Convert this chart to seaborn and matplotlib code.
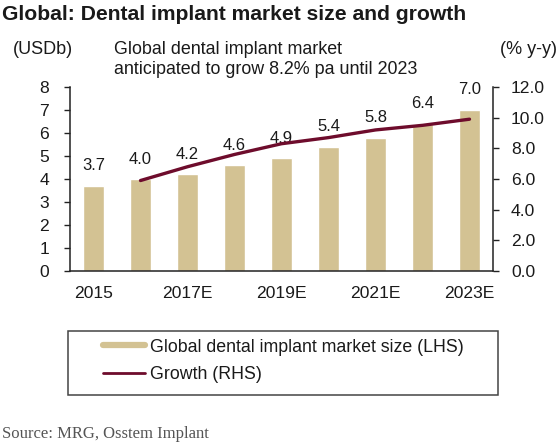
import numpy as np
import pandas as pd
import matplotlib
matplotlib.use("Agg")
import matplotlib.pyplot as plt
from matplotlib.lines import Line2D
from matplotlib.patches import Rectangle
import seaborn as sns

years = ["2015", "2016E", "2017E", "2018E", "2019E", "2020E", "2021E", "2022E", "2023E"]
market_size = [3.7, 4.0, 4.2, 4.6, 4.9, 5.4, 5.8, 6.4, 7.0]
growth = [np.nan, 5.9, 6.8, 7.6, 8.3, 8.7, 9.2, 9.5, 9.9]
left_ticks = [0, 1, 2, 3, 4, 5, 6, 7, 8]
right_ticks = [0, 2, 4, 6, 8, 10, 12]

BAR_COLOR = "#d3c293"
LINE_COLOR = "#6e0c2c"
TEXT = "#1a1a1a"
TICK_FS = 12.6

sns.set_style("white")
plt.rcParams["font.family"] = ["Liberation Sans", "DejaVu Sans"]

fig = plt.figure(figsize=(5.6, 4.48), dpi=100)
ax = fig.add_axes([70/560, 1-271/448, (493-70)/560, (271-87)/448])

df = pd.DataFrame({"year": years, "size": market_size, "growth": growth, "pos": np.arange(len(years))})

sns.barplot(data=df, x="year", y="size", color=BAR_COLOR, saturation=1, width=0.45, ax=ax)
ax.set_xlim(-0.5, len(years) - 0.5)
ax.set_ylim(0, 8)
ax.set_yticks(left_ticks)
ax.set_yticklabels([str(t) for t in left_ticks], fontsize=TICK_FS, color=TEXT)
ax.set_xticks(range(0, len(years), 2))
ax.set_xticklabels([years[i] for i in range(0, len(years), 2)], fontsize=TICK_FS, color=TEXT)
ax.set_xticks([1.5, 3.5, 5.5, 7.5], minor=True)
ax.tick_params(axis="x", which="major", length=0, pad=11)
ax.tick_params(axis="x", which="minor", length=4, width=1, color="#222222", direction="out")
ax.tick_params(axis="y", length=4, width=1, color="#222222", direction="out", pad=11)
ax.set_xlabel("")
ax.set_ylabel("")

for i, v in enumerate(market_size):
    ax.annotate(f"{v:.1f}", (i, v), xytext=(0, 9), textcoords="offset points",
                ha="center", va="bottom", fontsize=12, color=TEXT)

ax2 = ax.twinx()
sns.lineplot(data=df.dropna(), x="pos", y="growth", color=LINE_COLOR, linewidth=2.4, ax=ax2)
ax2.set_ylim(0, 12)
ax2.set_yticks(right_ticks)
ax2.set_yticklabels([f"{t:.1f}" for t in right_ticks], fontsize=TICK_FS, color=TEXT)
ax2.tick_params(axis="y", length=4, width=1, color="#222222", direction="out", pad=9)
ax2.set_ylabel("")
ax2.set_xlabel("")
ax2.set_xlim(-0.5, len(years) - 0.5)

for a in (ax, ax2):
    a.spines["top"].set_visible(False)
    for side in ("left", "right", "bottom"):
        a.spines[side].set_color("#222222")
        a.spines[side].set_linewidth(1.1)
ax.spines["right"].set_visible(False)
ax2.spines["left"].set_visible(False)
ax2.spines["bottom"].set_visible(False)

# Titles and annotations
fig.text(2/560, 1-15/448, "Global: Dental implant market size and growth", fontsize=15.2,
         fontweight="bold", color=TEXT, va="center", ha="left")
fig.text(13/560, 1-50/448, "(USDb)", fontsize=13, color=TEXT, va="center", ha="left")
fig.text(557/560, 1-50/448, "(% y-y)", fontsize=13, color=TEXT, va="center", ha="right")
fig.text(114/560, 1-50/448, "Global dental implant market", fontsize=12.9, color=TEXT, va="center", ha="left")
fig.text(114/560, 1-69/448, "anticipated to grow 8.2% pa until 2023", fontsize=12.9, color=TEXT, va="center", ha="left")

# Legend box
box = Rectangle((68/560, 1-395/448), (498-68)/560, (395-331)/448, transform=fig.transFigure,
                fill=False, edgecolor="#444444", linewidth=1.1)
fig.patches.append(box)
handles = [Line2D([0], [0], color=BAR_COLOR, linewidth=4.5),
           Line2D([0], [0], color=LINE_COLOR, linewidth=2)]
labels = ["Global dental implant market size (LHS)", "Growth (RHS)"]
fig.legend(handles, labels, loc="upper left", bbox_to_anchor=(99/560, 1-335/448),
           frameon=False, fontsize=12.8, handlelength=2.4, handletextpad=0.25,
           labelspacing=0.6, borderpad=0.2, borderaxespad=0, labelcolor=TEXT)

fig.text(2/560, 1-434/448, "Source: MRG, Osstem Implant", fontsize=12,
         family=["Liberation Serif", "DejaVu Serif"], color="#555555", va="center", ha="left")

fig.savefig("out.png", dpi=100)
